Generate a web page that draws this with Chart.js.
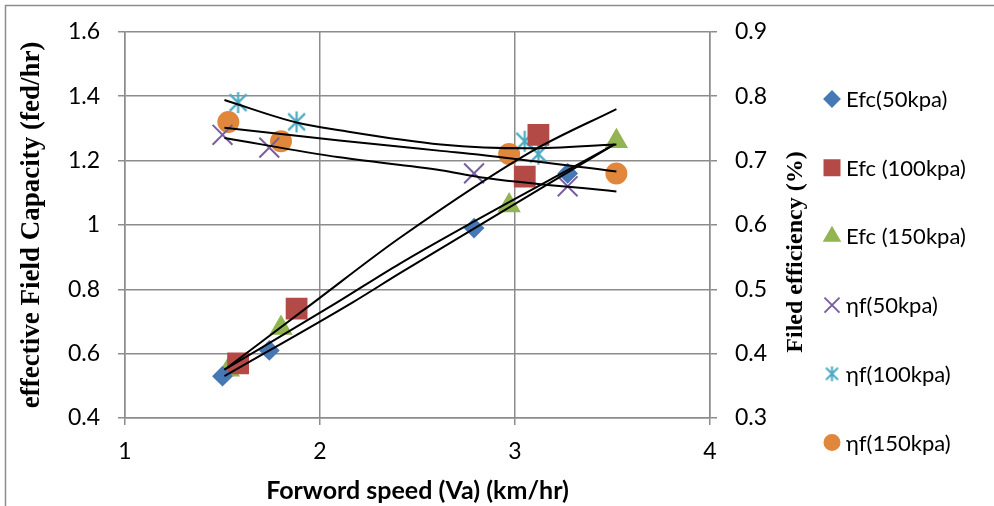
<!DOCTYPE html>
<html>
<head>
<meta charset="utf-8">
<script src="https://cdn.jsdelivr.net/npm/chart.js"></script>
<style>
  html, body { margin: 0; padding: 0; background: #fff; }
  canvas { display: block; }
</style>
</head>
<body>
<canvas id="jsFieldCanvas" width="994" height="506"></canvas>
<script>
// Forward speed (km/hr) for each pressure
const speed50 = [1.50, 1.74, 2.79, 3.27];
const speed100 = [1.58, 1.88, 3.05, 3.12];
const speed150 = [1.53, 1.80, 2.97, 3.52];

// effective field capacity (fed/hr) - left axis
const efc50 = [0.53, 0.61, 0.99, 1.16];
const efc100 = [0.57, 0.74, 1.15, 1.28];
const efc150 = [0.55, 0.68, 1.06, 1.26];

// field efficiency - right axis
const eff50 = [0.74, 0.72, 0.68, 0.66];
const eff100 = [0.79, 0.76, 0.73, 0.71];
const eff150 = [0.76, 0.73, 0.71, 0.68];

// trend lines
const trendEfcUpperX = [1.51, 1.97, 2.41, 3.09, 3.52];
const trendEfcUpperY = [0.55, 0.76, 0.96, 1.23, 1.36];
const trendEfcMidX = [1.51, 2.09, 2.41, 3.51];
const trendEfcMidY = [0.55, 0.76, 0.88, 1.25];
const trendEfcLowerX = [1.51, 2.17, 2.41, 3.51];
const trendEfcLowerY = [0.53, 0.76, 0.85, 1.25];

const trendEffUpperX = [1.51, 1.88, 2.10, 2.62, 3.07, 3.52];
const trendEffUpperY = [0.794, 0.759, 0.747, 0.725, 0.719, 0.725];
const trendEffMidX = [1.51, 2.10, 2.62, 2.82, 3.52];
const trendEffMidY = [0.751, 0.731, 0.715, 0.709, 0.683];
const trendEffLowerX = [1.51, 2.10, 2.62, 2.82, 3.52];
const trendEffLowerY = [0.735, 0.705, 0.685, 0.674, 0.652];

// tick labels
const xTicks = [1, 2, 3, 4];
const leftTicks = [0.4, 0.6, 0.8, 1, 1.2, 1.4, 1.6];
const rightTicks = [0.3, 0.4, 0.5, 0.6, 0.7, 0.8, 0.9];

const gridColor = "#8c8c8c";
const tickFont = { family: "Lato", size: 23 };

const pairs = (xs, ys) => xs.map((x, i) => ({ x: x, y: ys[i] }));

// Excel like "star" marker: X plus a vertical bar
const asteriskMark = (size, color, lw) => {
  const c = document.createElement("canvas");
  c.width = size;
  c.height = size;
  const g = c.getContext("2d");
  const m = size / 2;
  const r = size / 2 - 1;
  const d = r * 0.8;
  g.strokeStyle = color;
  g.lineWidth = lw;
  g.beginPath();
  g.moveTo(m, m - r);
  g.lineTo(m, m + r);
  g.moveTo(m - d, m - d);
  g.lineTo(m + d, m + d);
  g.moveTo(m - d, m + d);
  g.lineTo(m + d, m - d);
  g.stroke();
  return c;
};

const markerDataset = (label, xs, ys, axis, color, style, radius, legendStyle, legendRadius) => ({
  type: "scatter",
  label: label,
  data: pairs(xs, ys),
  yAxisID: axis,
  pointStyle: style,
  pointRadius: radius,
  pointHoverRadius: radius,
  backgroundColor: color,
  borderColor: color,
  borderWidth: 2,
  order: 1,
  legendMark: { style: legendStyle || style, radius: legendRadius },
});

const trendDataset = (xs, ys, axis) => ({
  type: "line",
  data: pairs(xs, ys),
  yAxisID: axis,
  borderColor: "#000",
  borderWidth: 2,
  pointRadius: 0,
  fill: false,
  cubicInterpolationMode: "monotone",
  order: 0,
});

const tealColor = "#4baac3";

// border, right title and legend
const decorPlugin = {
  id: "decor",
  beforeDraw(chart) {
    const ctx = chart.ctx;
    ctx.save();
    ctx.strokeStyle = gridColor;
    ctx.lineWidth = 1.5;
    ctx.beginPath();
    ctx.moveTo(5.5, 520);
    ctx.lineTo(5.5, 5.5);
    ctx.lineTo(1000, 5.5);
    ctx.stroke();
    ctx.restore();
  },
  afterDraw(chart) {
    const ctx = chart.ctx;
    ctx.save();
    ctx.translate(796, 252);
    ctx.rotate(-Math.PI / 2);
    ctx.font = 'bold 24px "Liberation Serif"';
    ctx.textAlign = "center";
    ctx.textBaseline = "middle";
    ctx.fillStyle = "#000";
    ctx.fillText("Filed efficiency (%)", 0, 0);
    ctx.restore();

    const marked = chart.data.datasets.filter((d) => d.legendMark);
    marked.forEach((d, i) => {
      const y = 99 + i * 68.7;
      ctx.save();
      ctx.fillStyle = d.backgroundColor;
      ctx.strokeStyle = d.borderColor;
      ctx.lineWidth = 2;
      Chart.helpers.drawPoint(ctx, {
        pointStyle: d.legendMark.style,
        radius: d.legendMark.radius,
        rotation: 0,
        borderWidth: 2,
      }, 832, y);
      ctx.font = '22px "Lato"';
      ctx.fillStyle = "#000";
      ctx.textAlign = "left";
      ctx.textBaseline = "middle";
      ctx.fillText(d.label, 846, y + 1);
      ctx.restore();
    });
  },
};

const ctx = document.getElementById("jsFieldCanvas").getContext("2d");

new Chart(ctx, {
  type: "scatter",
  data: {
    datasets: [
      markerDataset("Efc(50kpa)", speed50, efc50, "y", "#4678b4", "rectRot", 9, null, 7.5),
      markerDataset("Efc (100kpa)", speed100, efc100, "y", "#b44a46", "rect", 14, null, 10.6),
      markerDataset("Efc (150kpa)", speed150, efc150, "y", "#93b452", "triangle", 11.5, null, 8.7),
      markerDataset("ηf(50kpa)", speed50, eff50, "y2", "#7a5fa0", "crossRot", 14, null, 10.6),
      markerDataset("ηf(100kpa)", speed100, eff100, "y2", tealColor,
        asteriskMark(23, tealColor, 2.2), 10, asteriskMark(17, tealColor, 2), 8),
      markerDataset("ηf(150kpa)", speed150, eff150, "y2", "#e1873c", "circle", 10, null, 7.5),
      trendDataset(trendEfcUpperX, trendEfcUpperY, "y"),
      trendDataset(trendEfcMidX, trendEfcMidY, "y"),
      trendDataset(trendEfcLowerX, trendEfcLowerY, "y"),
      trendDataset(trendEffUpperX, trendEffUpperY, "y2"),
      trendDataset(trendEffMidX, trendEffMidY, "y2"),
      trendDataset(trendEffLowerX, trendEffLowerY, "y2"),
    ],
  },
  options: {
    responsive: false,
    animation: false,
    layout: {
      padding: { left: 0, top: 28, right: 224, bottom: 0 },
    },
    plugins: {
      legend: { display: false },
      tooltip: { enabled: false },
    },
    scales: {
      x: {
        type: "linear",
        min: 1,
        max: 4,
        afterBuildTicks: (axis) => {
          axis.ticks = xTicks.map((v) => ({ value: v }));
        },
        afterFit: (axis) => {
          axis.height = 88;
        },
        ticks: {
          font: tickFont,
          color: "#000",
          padding: 13,
          callback: (v) => String(v),
        },
        grid: { color: gridColor, lineWidth: 1.5, tickLength: 7 },
        border: { color: gridColor, width: 1.5 },
        title: {
          display: true,
          text: "Forword speed (Va) (km/hr)",
          color: "#000",
          font: { family: "Lato", size: 25, weight: "bold" },
          padding: 0,
        },
      },
      y: {
        position: "left",
        min: 0.4,
        max: 1.6,
        afterBuildTicks: (axis) => {
          axis.ticks = leftTicks.map((v) => ({ value: v }));
        },
        afterFit: (axis) => {
          axis.width = 125;
        },
        ticks: {
          font: tickFont,
          color: "#000",
          padding: 18,
          callback: (v) => String(v),
        },
        grid: { color: gridColor, lineWidth: 1.5, tickLength: 7 },
        border: { color: gridColor, width: 1.5 },
        title: {
          display: true,
          text: "effective Field Capacity (fed/hr)",
          color: "#000",
          font: { family: "Liberation Serif", size: 27, weight: "bold" },
          padding: { top: 16, bottom: 0 },
        },
      },
      y2: {
        position: "right",
        min: 0.3,
        max: 0.9,
        afterBuildTicks: (axis) => {
          axis.ticks = rightTicks.map((v) => ({ value: v }));
        },
        afterFit: (axis) => {
          axis.width = 60;
        },
        ticks: {
          font: tickFont,
          color: "#000",
          padding: 18,
          callback: (v) => String(v),
        },
        grid: { drawOnChartArea: false, color: gridColor, lineWidth: 1.5, tickLength: 7 },
        border: { color: gridColor, width: 1.5 },
      },
    },
  },
  plugins: [decorPlugin],
});
</script>
</body>
</html>
